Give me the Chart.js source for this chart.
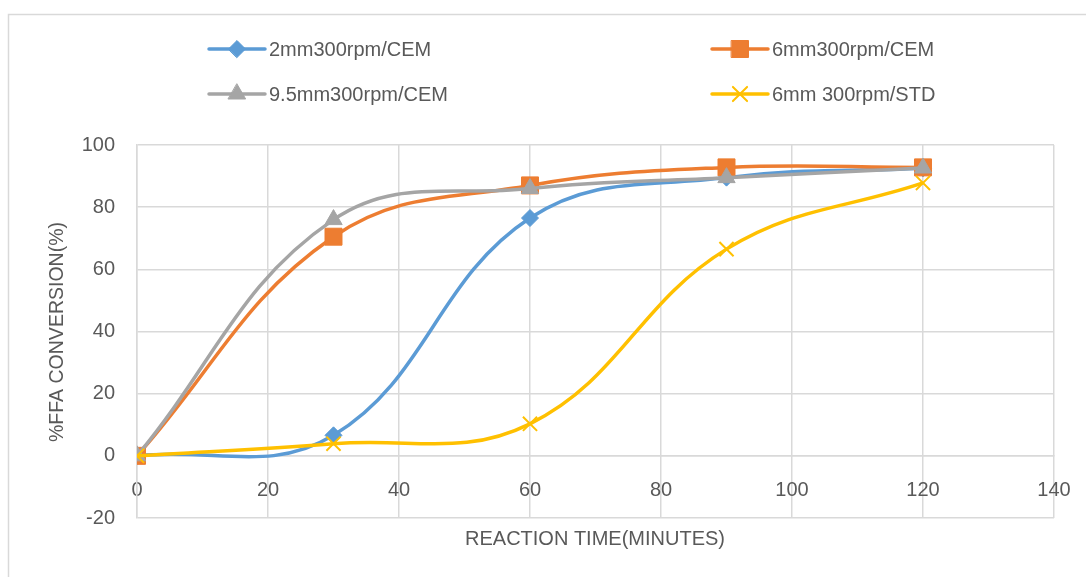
<!DOCTYPE html>
<html>
<head>
<meta charset="utf-8">
<script src="https://cdn.jsdelivr.net/npm/chart.js@4/dist/chart.umd.min.js"></script>
<style>
  html, body { margin: 0; padding: 0; background: #fff; }
  #wrap { position: relative; width: 1086px; height: 577px; }
</style>
</head>
<body>
<div id="wrap"><canvas id="chart" width="1086" height="577"></canvas></div>
<script>
// reaction time (minutes)
const times = [0, 30, 60, 90, 120];

// %FFA conversion per run
const cem2mm = [0, 6.6, 76.5, 89.5, 92.5];
const cem6mm = [0, 70.5, 87, 92.8, 92.8];
const cem95mm = [0, 76, 86, 89.5, 92.6];
const std6mm = [0, 3.9, 10.3, 66.5, 87.8];

const seriesNames = ["2mm300rpm/CEM", "6mm300rpm/CEM", "9.5mm300rpm/CEM", "6mm 300rpm/STD"];
const xTitle = "REACTION TIME(MINUTES)";
const yTitle = "%FFA CONVERSION(%)";

const textColor = "#595959";
const gridColor = "#d9d9d9";
const fontFamily = "'Liberation Sans', Arial, sans-serif";

function points(ys) {
  return times.map((t, i) => ({ x: t, y: ys[i] }));
}

const styles = [
  { color: "#5b9bd5", pointStyle: "rectRot", radius: 8.5, order: 3 },
  { color: "#ed7d31", pointStyle: "rect", radius: 12, order: 2 },
  { color: "#a5a5a5", pointStyle: "triangle", radius: 10, order: 1 },
  { color: "#ffc000", pointStyle: "crossRot", radius: 10, order: 0 }
];
const seriesValues = [cem2mm, cem6mm, cem95mm, std6mm];

const datasets = seriesValues.map((ys, i) => ({
  label: seriesNames[i],
  data: points(ys),
  borderColor: styles[i].color,
  backgroundColor: styles[i].color,
  borderWidth: 3.5,
  tension: 0.4,
  pointStyle: styles[i].pointStyle,
  pointRadius: styles[i].radius,
  pointBorderWidth: styles[i].pointStyle === "crossRot" ? 2 : 1,
  pointBorderColor: styles[i].color,
  pointBackgroundColor: styles[i].color,
  order: styles[i].order
}));

// legend slots and axis titles
const legendSlots = [
  { x: 209, y: 49 }, { x: 712, y: 49 },
  { x: 209, y: 94 }, { x: 712, y: 94 }
];

const decor = {
  id: "decor",
  beforeDraw(c) {
    const ctx = c.ctx;
    ctx.save();
    ctx.strokeStyle = gridColor;
    ctx.lineWidth = 1.5;
    ctx.strokeRect(8.5, 14.5, 1200, 700);
    ctx.restore();
  },
  afterDraw(c) {
    const ctx = c.ctx;
    ctx.save();
    ctx.fillStyle = textColor;
    ctx.font = "20px " + fontFamily;
    ctx.textAlign = "center";
    ctx.textBaseline = "middle";
    ctx.fillText(xTitle, 595, 539);

    ctx.translate(58, 332);
    ctx.rotate(-Math.PI / 2);
    ctx.font = "19.5px " + fontFamily;
    ctx.fillText(yTitle, 0, 0);
    ctx.restore();

    c.data.datasets.forEach((ds, i) => {
      const s = legendSlots[i];
      ctx.save();
      ctx.strokeStyle = ds.borderColor;
      ctx.lineWidth = 3.5;
      ctx.lineCap = "round";
      ctx.beginPath();
      ctx.moveTo(s.x, s.y);
      ctx.lineTo(s.x + 56, s.y);
      ctx.stroke();
      ctx.fillStyle = ds.pointBackgroundColor;
      ctx.strokeStyle = ds.pointBorderColor;
      ctx.lineWidth = ds.pointBorderWidth;
      Chart.helpers.drawPoint(ctx, {
        pointStyle: ds.pointStyle,
        radius: ds.pointRadius,
        rotation: 0,
        borderWidth: ds.pointBorderWidth
      }, s.x + 28, s.y);
      ctx.fillStyle = textColor;
      ctx.font = "20px " + fontFamily;
      ctx.textAlign = "left";
      ctx.textBaseline = "middle";
      ctx.fillText(ds.label, s.x + 60, s.y + 1);
      ctx.restore();
    });
  }
};

new Chart(document.getElementById("chart"), {
  type: "line",
  data: { datasets },
  options: {
    responsive: false,
    animation: false,
    devicePixelRatio: 1,
    layout: { padding: { left: 0, top: 145, right: 32, bottom: 59 } },
    plugins: {
      legend: { display: false },
      tooltip: { enabled: false }
    },
    scales: {
      x: {
        type: "linear",
        position: { y: 0 },
        min: 0,
        max: 140,
        ticks: {
          stepSize: 20,
          color: textColor,
          font: { family: fontFamily, size: 20 },
          padding: 23,
          maxRotation: 0
        },
        grid: { color: gridColor, lineWidth: 1.5, drawTicks: false },
        border: { color: gridColor, width: 1.5 },
        afterFit(scale) {
          scale.paddingLeft = 0;
          scale.paddingRight = 0;
        }
      },
      y: {
        min: -20,
        max: 100,
        ticks: {
          stepSize: 20,
          color: textColor,
          font: { family: fontFamily, size: 20 },
          padding: 22
        },
        grid: { color: gridColor, lineWidth: 1.5, drawTicks: false },
        border: { color: gridColor, width: 1.5 },
        afterFit(scale) { scale.width = 137; }
      }
    }
  },
  plugins: [decor]
});
</script>
</body>
</html>
